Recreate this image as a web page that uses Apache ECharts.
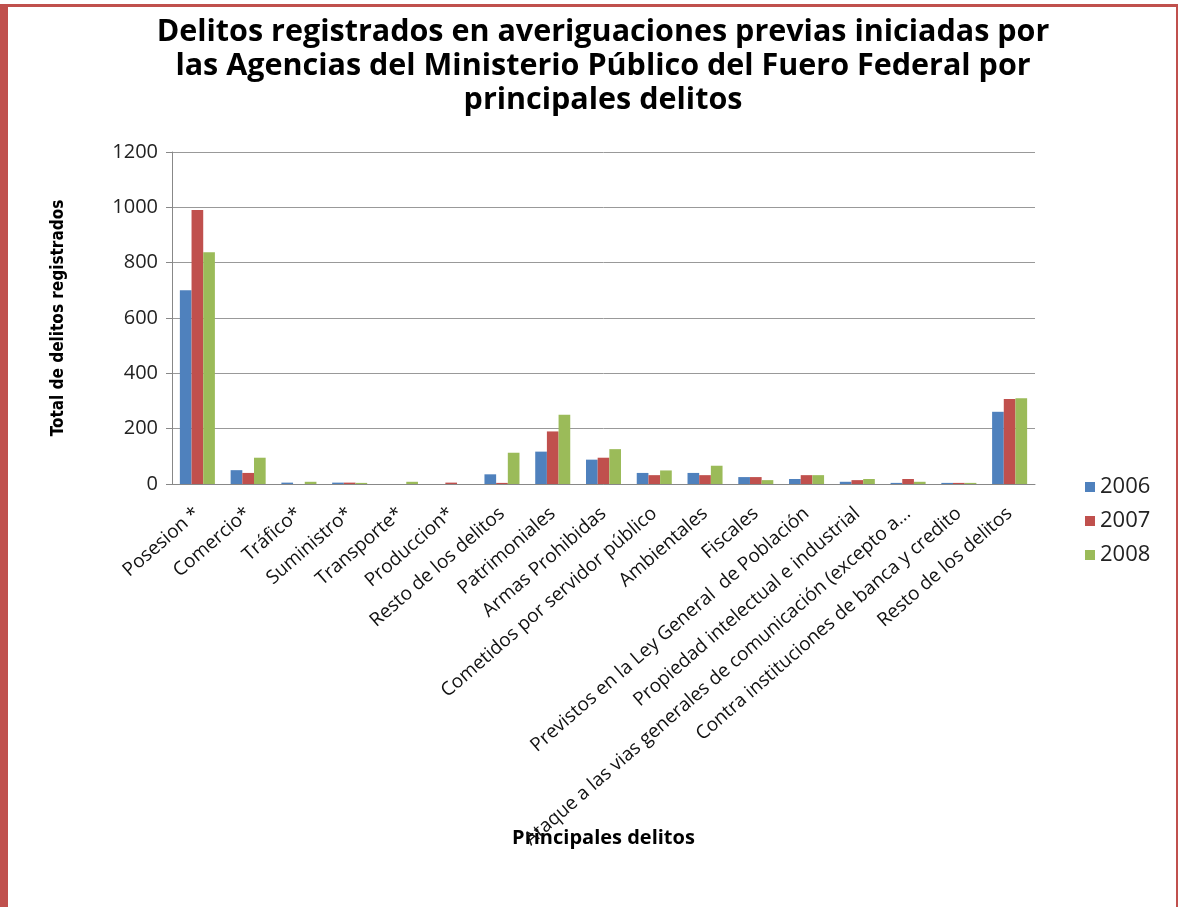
<!DOCTYPE html>
<html>
<head>
<meta charset="utf-8">
<script src="https://cdn.jsdelivr.net/npm/echarts@6/dist/echarts.min.js"></script>
<style>
  html, body { margin: 0; padding: 0; background: #fff; }
  #frame {
    position: absolute; left: 0; top: 4px; width: 1178px; height: 903px;
    border-left: 8px solid #c0504d; border-top: 3px solid #c0504d; border-right: 2px solid #c0504d;
    box-sizing: border-box;
  }
  #main { position: absolute; left: 0; top: 0; width: 1179px; height: 907px; }
</style>
</head>
<body>
<div id="frame"></div>
<div id="main"></div>
<script>
var categories = [
  'Posesion *', 'Comercio*', 'Tráfico*', 'Suministro*', 'Transporte*', 'Produccion*',
  'Resto de los delitos', 'Patrimoniales', 'Armas Prohibidas', 'Cometidos por servidor público',
  'Ambientales', 'Fiscales', 'Previstos en la Ley General  de Población',
  'Propiedad intelectual e industrial',
  'Ataque a las vias generales de comunicación (excepto a...',
  'Contra instituciones de banca y credito', 'Resto de los delitos'
];
var years = ['2006', '2007', '2008'];
var values2006 = [700, 50, 5, 5, 0, 0, 35, 117, 88, 40, 40, 25, 18, 8, 4, 4, 261];
var values2007 = [990, 40, 0, 5, 0, 5, 4, 190, 95, 32, 32, 25, 32, 14, 18, 4, 307];
var values2008 = [838, 95, 8, 4, 8, 0, 113, 250, 126, 49, 66, 14, 32, 18, 8, 4, 310];
var colors = ['#4f81bd', '#c0504d', '#9bbb59'];

var chart = echarts.init(document.getElementById('main'), null, { renderer: 'canvas' });

function bar(name, data, color) {
  return {
    name: name, type: 'bar', data: data, barGap: '0%', barCategoryGap: '31%',
    itemStyle: { color: color }
  };
}

chart.setOption({
  animation: false,
  textStyle: { fontFamily: 'Open Sans' },
  title: {
    text: 'Delitos registrados en averiguaciones previas iniciadas por\nlas Agencias del Ministerio Público del Fuero Federal por\nprincipales delitos',
    left: 598, top: 10, textAlign: 'center',
    textStyle: { fontFamily: 'Open Sans', fontWeight: 'bold', fontSize: 30.5, lineHeight: 34, color: '#000' }
  },
  color: colors,
  legend: {
    orient: 'vertical', left: 1080, top: 471, itemGap: 12,
    itemWidth: 10, itemHeight: 10, icon: 'rect',
    textStyle: { fontSize: 22, color: '#222', fontFamily: 'Open Sans' },
    data: years
  },
  grid: { left: 172, right: 144, top: 152, bottom: 423 },
  xAxis: {
    type: 'category', data: categories,
    name: 'Principales delitos', nameLocation: 'middle', nameGap: 344, nameMoveOverlap: false,
    nameTextStyle: { fontWeight: 'bold', fontSize: 20, color: '#000' },
    axisLine: { lineStyle: { color: '#888', width: 1 } },
    axisTick: { show: false },
    axisLabel: { interval: 0, rotate: 41, fontSize: 19, color: '#111', margin: 27 }
  },
  yAxis: {
    type: 'value', min: 0, max: 1200, interval: 200,
    name: 'Total de delitos registrados', nameLocation: 'middle', nameGap: 105, nameMoveOverlap: false,
    nameTextStyle: { fontFamily: 'DejaVu Sans Condensed', fontWeight: 'bold', fontSize: 17, color: '#000' },
    axisLine: { show: true, lineStyle: { color: '#888' } },
    axisTick: { show: true, length: 6, lineStyle: { color: '#888' } },
    splitLine: { lineStyle: { color: '#999', width: 1 } },
    axisLabel: { fontSize: 20, color: '#222', margin: 14, formatter: function (v) { return String(v); } }
  },
  series: [
    bar(years[0], values2006, colors[0]),
    bar(years[1], values2007, colors[1]),
    bar(years[2], values2008, colors[2])
  ]
});
</script>
</body>
</html>
